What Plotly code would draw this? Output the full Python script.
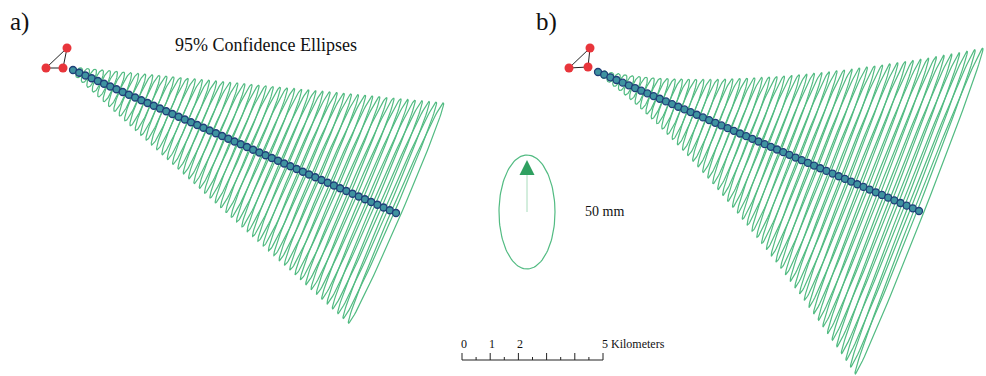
import numpy as np
import plotly.graph_objects as go

# ---------------- data ----------------
# station positions (map units) for the two panels
stations_a_x = [46, 67, 63]
stations_a_y = [68, 48, 68]
stations_b_x = [569, 590, 588]
stations_b_y = [68, 48, 67]

# track start and end (map units)
track_a_start = (73, 70)
track_a_end = (396, 213)
track_b_start = (598, 72)
track_b_end = (919, 211)

# distance of each modelled point along the track (map units)
track_dist = [0, 6.7, 13.4, 20.1, 26.8, 33.5, 40.2, 46.9, 53.6, 60.3, 67.0,
              73.7, 80.4, 87.1, 93.8, 100.5, 107.2, 113.9, 120.6, 127.3, 134.0,
              140.7, 147.4, 154.1, 160.8, 167.5, 174.2, 180.9, 187.6, 194.3,
              201.0, 207.7, 214.4, 221.1, 227.8, 234.5, 241.2, 247.9, 254.6,
              261.3, 268.0, 274.7, 281.4, 288.1, 294.8, 301.5, 308.2, 314.9,
              321.6, 328.3, 335.0, 341.7, 348.4]

# 95% ellipse semi-major axes
semi_major_a = [3.0, 5.3, 7.5, 9.8, 12.0, 14.3, 16.5, 18.8, 21.0, 23.3, 25.5,
                27.8, 30.0, 32.3, 34.5, 36.8, 39.0, 41.3, 43.5, 45.8, 48.0,
                50.3, 52.5, 54.8, 57.0, 59.3, 61.5, 63.8, 66.0, 68.3, 70.5,
                72.8, 75.0, 77.3, 79.5, 81.8, 84.0, 86.3, 88.5, 90.8, 93.0,
                95.3, 97.5, 99.8, 102.0, 104.3, 106.5, 108.8, 111.0, 113.3,
                115.5, 117.8, 120.0]
semi_major_b = [3.0, 3.8, 5.1, 6.7, 8.4, 10.3, 12.3, 14.5, 16.7, 19.1, 21.6,
                24.1, 26.8, 29.5, 32.3, 35.1, 38.0, 41.0, 44.1, 47.2, 50.4,
                53.6, 56.9, 60.2, 63.6, 67.0, 70.5, 74.0, 77.6, 81.2, 84.9,
                88.6, 92.3, 96.1, 99.9, 103.8, 107.7, 111.7, 115.6, 119.7,
                123.7, 127.8, 132.0, 136.1, 140.3, 144.5, 148.8, 153.1, 157.4,
                161.7, 166.1, 170.5, 175.0]
# semi-minor axes
semi_minor = [3.0, 3.0, 3.1, 3.1, 3.2, 3.2, 3.2, 3.3, 3.3, 3.3, 3.4, 3.4, 3.5,
              3.5, 3.5, 3.6, 3.6, 3.7, 3.7, 3.7, 3.8, 3.8, 3.8, 3.9, 3.9, 4.0,
              4.0, 4.0, 4.1, 4.1, 4.2, 4.2, 4.2, 4.3, 4.3, 4.3, 4.4, 4.4, 4.5,
              4.5, 4.5, 4.6, 4.6, 4.7, 4.7, 4.7, 4.8, 4.8, 4.8, 4.9, 4.9, 5.0,
              5.0]
# azimuth of the major axis (degrees clockwise from up)
major_azimuth_a = 23.3
major_azimuth_b = 21.4

# legend ellipse (50 mm reference)
legend_center = (527, 212)
legend_axes = (28, 57)
legend_label = "50 mm"

# scale bar
scale_km = [0, 0.5, 1, 1.5, 2, 2.5, 3, 3.5, 4, 4.5, 5]
scale_labels = {0: "0", 1: "1", 2: "2", 5: "5 Kilometers"}
px_per_km = 28.2
scale_origin = (462, 360)

GREEN = "#52bb82"
RED = "#e8353b"
DOT_FILL = "#3f93a0"
DOT_EDGE = "#1f3f78"

fig = go.Figure()


def track_points(start, end):
    sx, sy = start
    ex, ey = end
    L = np.hypot(ex - sx, ey - sy)
    d = np.array(track_dist) * (L / track_dist[-1])
    ux, uy = (ex - sx) / L, (ey - sy) / L
    return sx + d * ux, sy + d * uy


def ellipses(cx, cy, az_deg, majors, minors):
    az = np.radians(az_deg)
    nx, ny = np.sin(az), -np.cos(az)      # major-axis direction
    mx, my = -ny, nx                       # minor-axis direction
    th = np.linspace(0, 2 * np.pi, 100)
    xs, ys = [], []
    for x0, y0, a, b in zip(cx, cy, majors, minors):
        ex = x0 + a * np.cos(th) * nx + b * np.sin(th) * mx
        ey = y0 + a * np.cos(th) * ny + b * np.sin(th) * my
        xs += list(ex) + [None]
        ys += list(ey) + [None]
    return xs, ys


for start, end, majors, az, sx_, sy_ in [
    (track_a_start, track_a_end, semi_major_a, major_azimuth_a, stations_a_x, stations_a_y),
    (track_b_start, track_b_end, semi_major_b, major_azimuth_b, stations_b_x, stations_b_y),
]:
    cx, cy = track_points(start, end)
    ex, ey = ellipses(cx, cy, az, majors, semi_minor)
    fig.add_trace(go.Scatter(x=ex, y=ey, mode="lines",
                             line=dict(color=GREEN, width=1.2),
                             hoverinfo="skip"))
    fig.add_trace(go.Scatter(x=cx, y=cy, mode="markers",
                             marker=dict(size=7, color=DOT_FILL,
                                         line=dict(color=DOT_EDGE, width=1.3))))
    fig.add_trace(go.Scatter(x=sx_ + [sx_[0]], y=sy_ + [sy_[0]], mode="lines",
                             line=dict(color="#222222", width=1)))
    fig.add_trace(go.Scatter(x=sx_, y=sy_, mode="markers",
                             marker=dict(size=9, color=RED)))

# legend ellipse
th = np.linspace(0, 2 * np.pi, 120)
fig.add_trace(go.Scatter(x=legend_center[0] + legend_axes[0] * np.cos(th),
                         y=legend_center[1] + legend_axes[1] * np.sin(th),
                         mode="lines", line=dict(color=GREEN, width=1.2)))
fig.add_trace(go.Scatter(x=[legend_center[0], legend_center[0]],
                         y=[legend_center[1], legend_center[1] - legend_axes[1] + 10],
                         mode="lines", line=dict(color="#a8dcbc", width=1)))
fig.add_annotation(x=legend_center[0], y=legend_center[1] - legend_axes[1] + 5,
                   ax=legend_center[0], ay=legend_center[1] - legend_axes[1] + 16,
                   xref="x", yref="y", axref="x", ayref="y",
                   showarrow=True, arrowhead=2, arrowsize=1.2, arrowwidth=2.5,
                   arrowcolor="#2fa060", text="")
fig.add_annotation(x=583, y=211, xref="x", yref="y", text=legend_label,
                   showarrow=False, xanchor="left",
                   font=dict(family="Liberation Serif", size=14, color="#111"))

# scale bar
ox, oy = scale_origin
bar_x = [ox + k * px_per_km for k in scale_km]
fig.add_trace(go.Scatter(x=[bar_x[0], bar_x[-1]], y=[oy, oy], mode="lines",
                         line=dict(color="#222", width=1)))
tx, ty = [], []
for k, x in zip(scale_km, bar_x):
    h = 7 if float(k).is_integer() else 3
    tx += [x, x, None]
    ty += [oy, oy - h, None]
fig.add_trace(go.Scatter(x=tx, y=ty, mode="lines",
                         line=dict(color="#222", width=1)))
for k, lab in scale_labels.items():
    x = ox + k * px_per_km
    fig.add_annotation(x=x - 3, y=oy - 16, xref="x", yref="y", text=lab,
                       showarrow=False, xanchor="left",
                       font=dict(family="Liberation Serif", size=12, color="#111"))

# titles
fig.add_annotation(x=8, y=22, xref="x", yref="y", text="a)", showarrow=False,
                   xanchor="left", font=dict(family="Liberation Serif", size=25, color="#111"))
fig.add_annotation(x=534, y=22, xref="x", yref="y", text="b)", showarrow=False,
                   xanchor="left", font=dict(family="Liberation Serif", size=25, color="#111"))
fig.add_annotation(x=266, y=45, xref="x", yref="y", text="95% Confidence Ellipses",
                   showarrow=False,
                   font=dict(family="Liberation Serif", size=18, color="#111"))

fig.update_layout(width=986, height=376, margin=dict(l=0, r=0, t=0, b=0),
                  paper_bgcolor="white", plot_bgcolor="white", showlegend=False)
fig.update_xaxes(range=[0, 986], visible=False, fixedrange=True)
fig.update_yaxes(range=[376, 0], visible=False, fixedrange=True)

fig.write_html("out.html", config={"displayModeBar": False},
               post_script="document.body.style.margin='0';document.body.style.overflow='hidden';")
